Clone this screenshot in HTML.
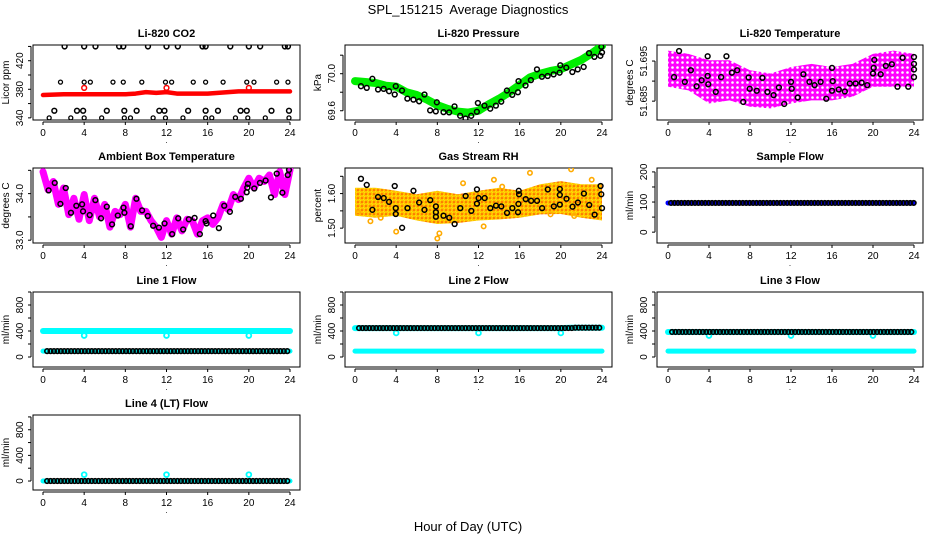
<!DOCTYPE html>
<html><head><meta charset="utf-8">
<style>
html,body{margin:0;padding:0;background:#fff;}
svg{display:block;font-family:"Liberation Sans",sans-serif;}
</style></head>
<body>
<svg id="chart" width="936" height="540" viewBox="0 0 936 540" xmlns="http://www.w3.org/2000/svg">
<defs>
<pattern id="pm" width="5" height="5" patternUnits="userSpaceOnUse"><rect width="5" height="5" fill="#ff00ff"/><circle cx="2.5" cy="2.5" r="1.3" fill="#fff"/></pattern>
<pattern id="po" width="4" height="4" patternUnits="userSpaceOnUse"><rect width="4" height="4" fill="#ffc000"/><circle cx="2" cy="2" r="0.8" fill="#ff3000"/><circle cx="0" cy="0" r="0.9" fill="#ffff00"/><circle cx="4" cy="4" r="0.9" fill="#ffff00"/></pattern>
</defs>
<text x="468" y="14" text-anchor="middle" font-size="13">SPL_151215&#160; Average Diagnostics</text>
<text x="468" y="531" text-anchor="middle" font-size="13">Hour of Day (UTC)</text>
</svg>
<script>
// ---------- data ----------
const hourTicks=[0,4,8,12,16,20,24];
// CO2
const co2Hours=[0,1,2,3,4,5,6,7,8,9,10,11,12,13,14,15,16,17,18,19,20,21,22,23,24];
const co2Red=[372,372.5,373,373,373,373,373,373,373,374,376,375,376,374,374,374,374,375,376,377,377,377,377,377,377];
const co2SpikeHours=[4,12,20];
const co2SpikeVals=[382,382,382];
const co2Top=[2.1,4,5.1,7.4,7.8,10.2,12,13.1,15.5,15.8,18.2,20,21.1,23.5,23.8];
const co2Mid=[1.7,4,4.6,6.8,7.8,9.6,11.9,12.5,14.6,15.8,17.5,19.8,20.5,22.7,23.8];
const co2Low1=[1.1,3.3,3.9,6.2,7.9,9.1,11.3,11.8,14.1,15.8,17,19.2,19.8,22.2,23.9];
const co2Low2=[0.6,2.7,4,5.7,7.9,8.5,10.7,11.9,13.6,15.8,16.4,18.7,19.9,21.6,23.9];
const co2Levels=[440,390,350,340];
// Pressure
const presHours=co2Hours;
const presGreen=[69.92,69.91,69.90,69.87,69.86,69.80,69.77,69.72,69.66,69.62,69.59,69.58,69.60,69.67,69.73,69.80,69.88,69.96,70.00,70.03,70.05,70.10,70.15,70.22,70.30];
const presBlackH=[0.58,1.14,1.69,2.24,2.79,3.31,3.86,3.96,4.57,5.09,5.68,6.23,6.75,7.30,7.85,7.95,8.60,9.15,9.67,10.22,10.74,11.29,11.84,11.94,12.58,13.14,13.69,14.21,14.76,15.28,15.83,15.89,16.57,17.09,17.68,18.16,18.72,19.30,19.88,19.95,20.53,21.12,21.64,22.22,22.74,23.26,23.84,24.0,23.94];
const presBlackV=[69.865,69.847,69.945,69.829,69.836,69.811,69.775,69.865,69.818,69.731,69.720,69.702,69.775,69.604,69.593,69.691,69.585,69.582,69.647,69.545,69.516,69.545,69.589,69.684,69.655,69.622,69.655,69.698,69.818,69.771,69.800,69.920,69.873,69.931,70.047,69.967,69.975,69.993,70.011,70.091,70.065,70.018,70.047,70.073,70.222,70.182,70.193,70.229,70.291];
// Li-820 temperature
const bandHours=[0,2,4,6,8,10,12,14,16,18,20,22,24];
const tempUpper=[51.6976,51.6968,51.6952,51.6952,51.6927,51.6919,51.6935,51.6943,51.6935,51.6943,51.6968,51.6976,51.6968];
const tempLower=[51.6886,51.6877,51.6844,51.6852,51.6836,51.6832,51.6844,51.6852,51.6852,51.6861,51.6886,51.6886,51.6886];
const tempBlackH=[0.59,1.08,1.64,2.23,2.79,3.28,3.87,3.87,3.93,4.66,5.18,5.70,6.23,6.75,7.34,7.87,7.97,8.66,9.21,9.70,10.30,10.82,11.34,12.0,12.07,12.66,13.21,13.80,14.30,14.89,15.44,16.0,16.0,16.07,16.66,17.25,17.74,18.30,18.89,19.44,20.0,20.07,20.13,20.75,21.25,21.84,22.39,22.89,23.44,24.0,24.0,24.0,24.0];
const tempBlackV=[51.6910,51.6975,51.6898,51.6927,51.6887,51.6902,51.6962,51.6913,51.6892,51.6873,51.6910,51.6962,51.6921,51.6927,51.6848,51.6909,51.6881,51.6876,51.6908,51.6873,51.6865,51.6884,51.6843,51.6898,51.6881,51.6859,51.6917,51.6898,51.6890,51.6898,51.6856,51.6933,51.6876,51.6900,51.6879,51.6874,51.6894,51.6894,51.6896,51.6890,51.6919,51.6933,51.6953,51.6917,51.6938,51.6942,51.6886,51.6958,51.6886,51.6960,51.6943,51.6929,51.6910];
// Ambient
const ambHours=[0,0.5,1,1.5,2,2.5,3,3.5,4,4.5,5,5.5,6,6.5,7,7.5,8,8.5,9,9.5,10,10.5,11,11.5,12,12.5,13,13.5,14,14.5,15,15.5,16,16.5,17,17.5,18,18.5,19,19.5,20,20.5,21,21.5,22,22.5,23,23.5,24];
const ambMag=[34.47,34.08,34.26,33.77,34.12,33.55,33.9,33.45,33.98,33.42,33.9,33.5,33.77,33.28,33.62,33.55,33.77,33.28,33.9,33.62,33.62,33.42,33.28,33.06,33.42,33.13,33.48,33.2,33.45,33.42,33.13,33.42,33.48,33.34,33.48,33.77,33.66,33.98,33.87,34.12,34.33,34.12,34.33,34.26,34.4,33.98,34.47,33.98,34.51];
const ambBlackH=[0.55,1.14,1.69,2.21,2.72,3.24,3.80,3.89,4.54,5.09,5.64,6.20,6.71,7.27,7.82,7.91,8.53,9.08,9.63,10.18,10.70,11.26,11.81,12.55,13.14,13.62,14.17,14.73,15.24,15.80,15.89,16.54,17.09,17.61,18.16,18.68,19.23,19.79,19.85,19.92,20.53,21.08,21.63,22.15,22.71,23.26,23.78,23.9];
const ambBlackV=[34.07,34.23,33.78,34.12,33.59,33.74,33.77,33.62,33.54,33.86,33.47,33.72,33.34,33.53,33.70,33.59,33.30,33.89,33.64,33.52,33.31,33.27,33.36,33.13,33.47,33.23,33.45,33.48,33.13,33.41,33.36,33.53,33.26,33.74,33.61,33.93,33.89,34.03,34.13,34.21,34.11,34.23,34.28,33.92,34.43,34.02,34.40,34.51];
// RH
const rhUpper=[1.617,1.617,1.608,1.598,1.608,1.598,1.608,1.617,1.608,1.627,1.636,1.627,1.627];
const rhLower=[1.536,1.530,1.536,1.522,1.512,1.515,1.522,1.525,1.530,1.540,1.541,1.530,1.522];
const rhBlackH=[0.58,1.14,1.69,2.24,2.79,3.31,3.86,3.96,3.96,4.58,5.10,5.68,6.23,6.75,7.31,7.86,7.86,7.86,8.60,9.16,9.68,10.23,10.75,11.30,11.85,11.85,12.01,12.60,13.15,13.70,14.22,14.77,15.29,15.91,15.94,15.84,15.88,16.59,17.11,17.69,18.18,18.73,19.32,19.90,19.90,19.90,20.55,21.14,21.66,22.24,22.76,23.28,23.86,23.93,24.0];
const rhBlackV=[1.643,1.625,1.553,1.590,1.587,1.576,1.622,1.558,1.541,1.501,1.558,1.608,1.574,1.553,1.581,1.563,1.546,1.533,1.536,1.530,1.512,1.558,1.593,1.550,1.612,1.571,1.587,1.587,1.558,1.565,1.563,1.544,1.558,1.608,1.598,1.546,1.570,1.584,1.579,1.579,1.558,1.612,1.563,1.613,1.596,1.568,1.585,1.562,1.574,1.600,1.567,1.539,1.622,1.598,1.558];
const rhOutH=[0.3,1.5,2.5,4.0,8.0,8.2,10.5,12.5,13.5,14.3,17.0,19.0,21.0,21.3,23.0];
const rhOutV=[1.545,1.520,1.530,1.490,1.470,1.485,1.630,1.505,1.640,1.620,1.660,1.540,1.670,1.535,1.640];
// Flows (value per hour 0..24)
const sampleBlue=[97,97,97,97,97,97,97,97,97,97,97,97,97,97,97,97,97,97,97,97,97,97,97,97,97];
const sampleBlack=[97,97,97,97,97,97,97,97,97,97,97,97,97,97,97,97,97,97,97,97,97,97,97,97,97];
const l1High=[400,400,400,400,400,400,400,400,400,400,400,400,400,400,400,400,400,400,400,400,400,400,400,400,400];
const l1Low=[90,90,90,90,90,90,90,90,90,90,90,90,90,90,90,90,90,90,90,90,90,90,90,90,90];
const l2High=[445,445,445,445,445,445,445,445,445,445,445,445,445,445,445,445,445,445,445,445,445,450,450,450,450];
const l2Low=[90,90,90,90,90,90,90,90,90,90,90,90,90,90,90,90,90,90,90,90,90,90,90,90,90];
const l3High=[385,385,385,385,385,385,385,385,385,385,385,385,385,385,385,385,385,385,385,385,385,385,385,385,385];
const l3Low=[90,90,90,90,90,90,90,90,90,90,90,90,90,90,90,90,90,90,90,90,90,90,90,90,90];
const l4Base=[0,0,0,0,0,0,0,0,0,0,0,0,0,0,0,0,0,0,0,0,0,0,0,0,0];
const dipHours=[4,12,20];
const l1Dip=[330,330,330];
const l2Dip=[370,370,370];
const l3Dip=[330,330,330];
const l4Dip=[100,100,100];

// ---------- drawing ----------
const svg=document.getElementById('chart');
const NS='http://www.w3.org/2000/svg';
function el(tag,attrs,parent){const e=document.createElementNS(NS,tag);for(const k in attrs)e.setAttribute(k,attrs[k]);(parent||svg).appendChild(e);return e;}
const cols=[{L:33,R:300,x0:43,x24:290},{L:345,R:612,x0:355,x24:602},{L:657,R:923,x0:668,x24:914}];
const rows=[45,168,292,415];
const H=75;

function panel(c,r,title,ytitle,ymin,ymax,ticks,labels,fmt,name){
  const col=cols[c],top=rows[r],bot=top+H;
  const g=el('g',{});
  
  
  const sx=h=>col.x0+h*(col.x24-col.x0)/24;
  const sy=v=>bot-(v-ymin)/(ymax-ymin)*H;
  const t=el('text',{x:(col.L+col.R)/2,y:top-8,'text-anchor':'middle','font-size':'11','font-weight':'bold'},g);
  t.textContent=title;
  
  
  const box=el('rect',{x:col.L,y:top,width:col.R-col.L,height:H,fill:'none',stroke:'#000','stroke-width':1},g);
  
  
  const xa=el('g',{},g);
  
  
  el('line',{x1:sx(0),x2:sx(24),y1:bot+2,y2:bot+2,stroke:'#000'},xa);
  hourTicks.forEach(h=>{
    el('line',{x1:sx(h),x2:sx(h),y1:bot+2,y2:bot+5,stroke:'#000'},xa);
    const tl=el('text',{x:sx(h),y:bot+16,'text-anchor':'middle','font-size':'10'},xa);
    tl.textContent=h;
    
    
  });
  const dot=el('text',{x:(col.L+col.R)/2,y:bot+23,'text-anchor':'middle','font-size':'8'},xa);
  dot.textContent='.';
  const ya=el('g',{},g);
  
  
  el('line',{x1:col.L-2,x2:col.L-2,y1:sy(ticks[0]),y2:sy(ticks[ticks.length-1]),stroke:'#000'},ya);
  ticks.forEach(v=>{el('line',{x1:col.L-5,x2:col.L-2,y1:sy(v),y2:sy(v),stroke:'#000'},ya);});
  labels.forEach(v=>{
    const x=col.L-10,y=sy(v);
    const tl=el('text',{x:x,y:y,'text-anchor':'middle','font-size':'10',transform:`rotate(-90 ${x} ${y})`},ya);
    tl.textContent=fmt(v);
    
    
  });
  const yx=col.L-24,yy=(top+bot)/2;
  const yt=el('text',{x:yx,y:yy,'text-anchor':'middle','font-size':'10',transform:`rotate(-90 ${yx} ${yy})`},g);
  yt.textContent=ytitle;
  
  
  const clip='clip'+c+r;
  const cp=el('clipPath',{id:clip},g);
  el('rect',{x:col.L,y:top,width:col.R-col.L,height:H},cp);
  const data=el('g',{'clip-path':`url(#${clip})`},g);
  
  
  return {sx,sy,g:data};
}
function circles(p,hs,vs,color,name,r,w){
  hs.forEach((h,i)=>{
    const cc=el('circle',{cx:p.sx(h),cy:p.sy(vs[i]),r:r||2.4,fill:'none',stroke:color,'stroke-width':w||1.5},p.g);
    
    
  });
}
function thickLine(p,hs,vs,color,w,name){
  const pts=hs.map((h,i)=>p.sx(h)+','+p.sy(vs[i])).join(' ');
  const pl=el('polyline',{points:pts,fill:'none',stroke:color,'stroke-width':w,'stroke-linejoin':'round','stroke-linecap':'round'},p.g);
  
  
}
function band(p,hs,up,lo,fill,name){
  const pts=hs.map((h,i)=>p.sx(h)+','+p.sy(up[i])).concat(hs.slice().reverse().map((h,j)=>p.sx(h)+','+p.sy(lo[hs.length-1-j]))).join(' ');
  const pg=el('polygon',{points:pts,fill:fill,'stroke':'none'},p.g);
  
  
}
function stepSeries(p,vals,color,name,start){
  for(let h=0;h<24;h++){for(let k=0;k<3;k++){const x=h+k/3+(start||0);if(x>24)continue;
    const cc=el('circle',{cx:p.sx(x),cy:p.sy(vals[h]),r:2.3,fill:'none',stroke:color,'stroke-width':1.6},p.g);
    
    }}
}

const f0=v=>String(v), f1=v=>v.toFixed(1), f2=v=>v.toFixed(2), f3=v=>v.toFixed(3);

let p=panel(0,0,'Li-820 CO2','Licor ppm',337,442,[340,360,380,400,420,440],[340,380,420],f0,'co2-panel');
thickLine(p,co2Hours,co2Red,'#ff0000',4.5,'co2-series');
circles(p,co2SpikeHours,co2SpikeVals,'#ff0000','co2-spike');
circles(p,co2Top,co2Top.map(()=>co2Levels[0]),'#000','co2-avg-point');
circles(p,co2Mid,co2Mid.map(()=>co2Levels[1]),'#000','co2-avg-point',2.0,1.3);
circles(p,co2Low1,co2Low1.map(()=>co2Levels[2]),'#000','co2-avg-point');
circles(p,co2Low2,co2Low2.map(()=>co2Levels[3]),'#000','co2-avg-point',2.0,1.3);
p=panel(1,0,'Li-820 Pressure','kPa',69.50,70.31,[69.6,69.8,70.0,70.2],[69.6,70.0],f1,'pressure-panel');
thickLine(p,presHours,presGreen,'#00ee00',8,'pressure-series');
circles(p,presBlackH,presBlackV,'#000','pressure-avg-point');
p=panel(2,0,'Li-820 Temperature','degrees C',51.6803,51.699,[51.685,51.690,51.695],[51.685,51.695],f3,'temperature-panel');
band(p,bandHours,tempUpper,tempLower,'url(#pm)','temperature-cloud');
circles(p,tempBlackH,tempBlackV,'#000','temperature-avg-point');
p=panel(0,1,'Ambient Box Temperature','degrees C',32.94,34.55,[33,33.5,34,34.5],[33,34],f1,'ambient-panel');
thickLine(p,ambHours,ambMag,'#ff00ff',7,'ambient-series');
circles(p,ambBlackH,ambBlackV,'#000','ambient-avg-point');
p=panel(1,1,'Gas Stream RH','percent',1.457,1.674,[1.50,1.55,1.60,1.65],[1.50,1.60],f2,'rh-panel');
band(p,bandHours,rhUpper,rhLower,'url(#po)','rh-cloud');
circles(p,rhOutH,rhOutV,'#ffaa00','rh-outlier',2.2,1.6);
circles(p,rhBlackH,rhBlackV,'#000','rh-avg-point');
p=panel(2,1,'Sample Flow','ml/min',-36,213,[0,50,100,150,200],[0,100,200],f0,'sample-flow-panel');
thickLine(p,co2Hours,sampleBlue,'#0000ff',5,'sample-flow-series');
stepSeries(p,sampleBlack,'#000','sample-flow-avg-point',0.3);
const ft=[0,200,400,600,800,1000], fl=[0,400,800];
p=panel(0,2,'Line 1 Flow','ml/min',-154,1000,ft,fl,f0,'line1-flow-panel');
thickLine(p,co2Hours,l1High,'#00ffff',6,'line1-high-series');
thickLine(p,co2Hours,l1Low,'#00ffff',5,'line1-low-series');
circles(p,dipHours,l1Dip,'#00ffff','line1-dip',2.4,1.8);
stepSeries(p,l1Low,'#000','line1-avg-point',0.4);
p=panel(1,2,'Line 2 Flow','ml/min',-154,1000,ft,fl,f0,'line2-flow-panel');
thickLine(p,co2Hours,l2High,'#00ffff',6,'line2-high-series');
thickLine(p,co2Hours,l2Low,'#00ffff',5,'line2-low-series');
circles(p,dipHours,l2Dip,'#00ffff','line2-dip',2.4,1.8);
stepSeries(p,l2High,'#000','line2-avg-point',0.4);
p=panel(2,2,'Line 3 Flow','ml/min',-154,1000,ft,fl,f0,'line3-flow-panel');
thickLine(p,co2Hours,l3High,'#00ffff',6,'line3-high-series');
thickLine(p,co2Hours,l3Low,'#00ffff',5,'line3-low-series');
circles(p,dipHours,l3Dip,'#00ffff','line3-dip',2.4,1.8);
stepSeries(p,l3High,'#000','line3-avg-point',0.4);
p=panel(0,3,'Line 4 (LT) Flow','ml/min',-140,1030,ft,fl,f0,'line4-flow-panel');
thickLine(p,co2Hours,l4Base,'#00ffff',5,'line4-series');
circles(p,dipHours,l4Dip,'#00ffff','line4-dip',2.4,1.8);
stepSeries(p,l4Base,'#000','line4-avg-point',0.4);
</script>
</body></html>
